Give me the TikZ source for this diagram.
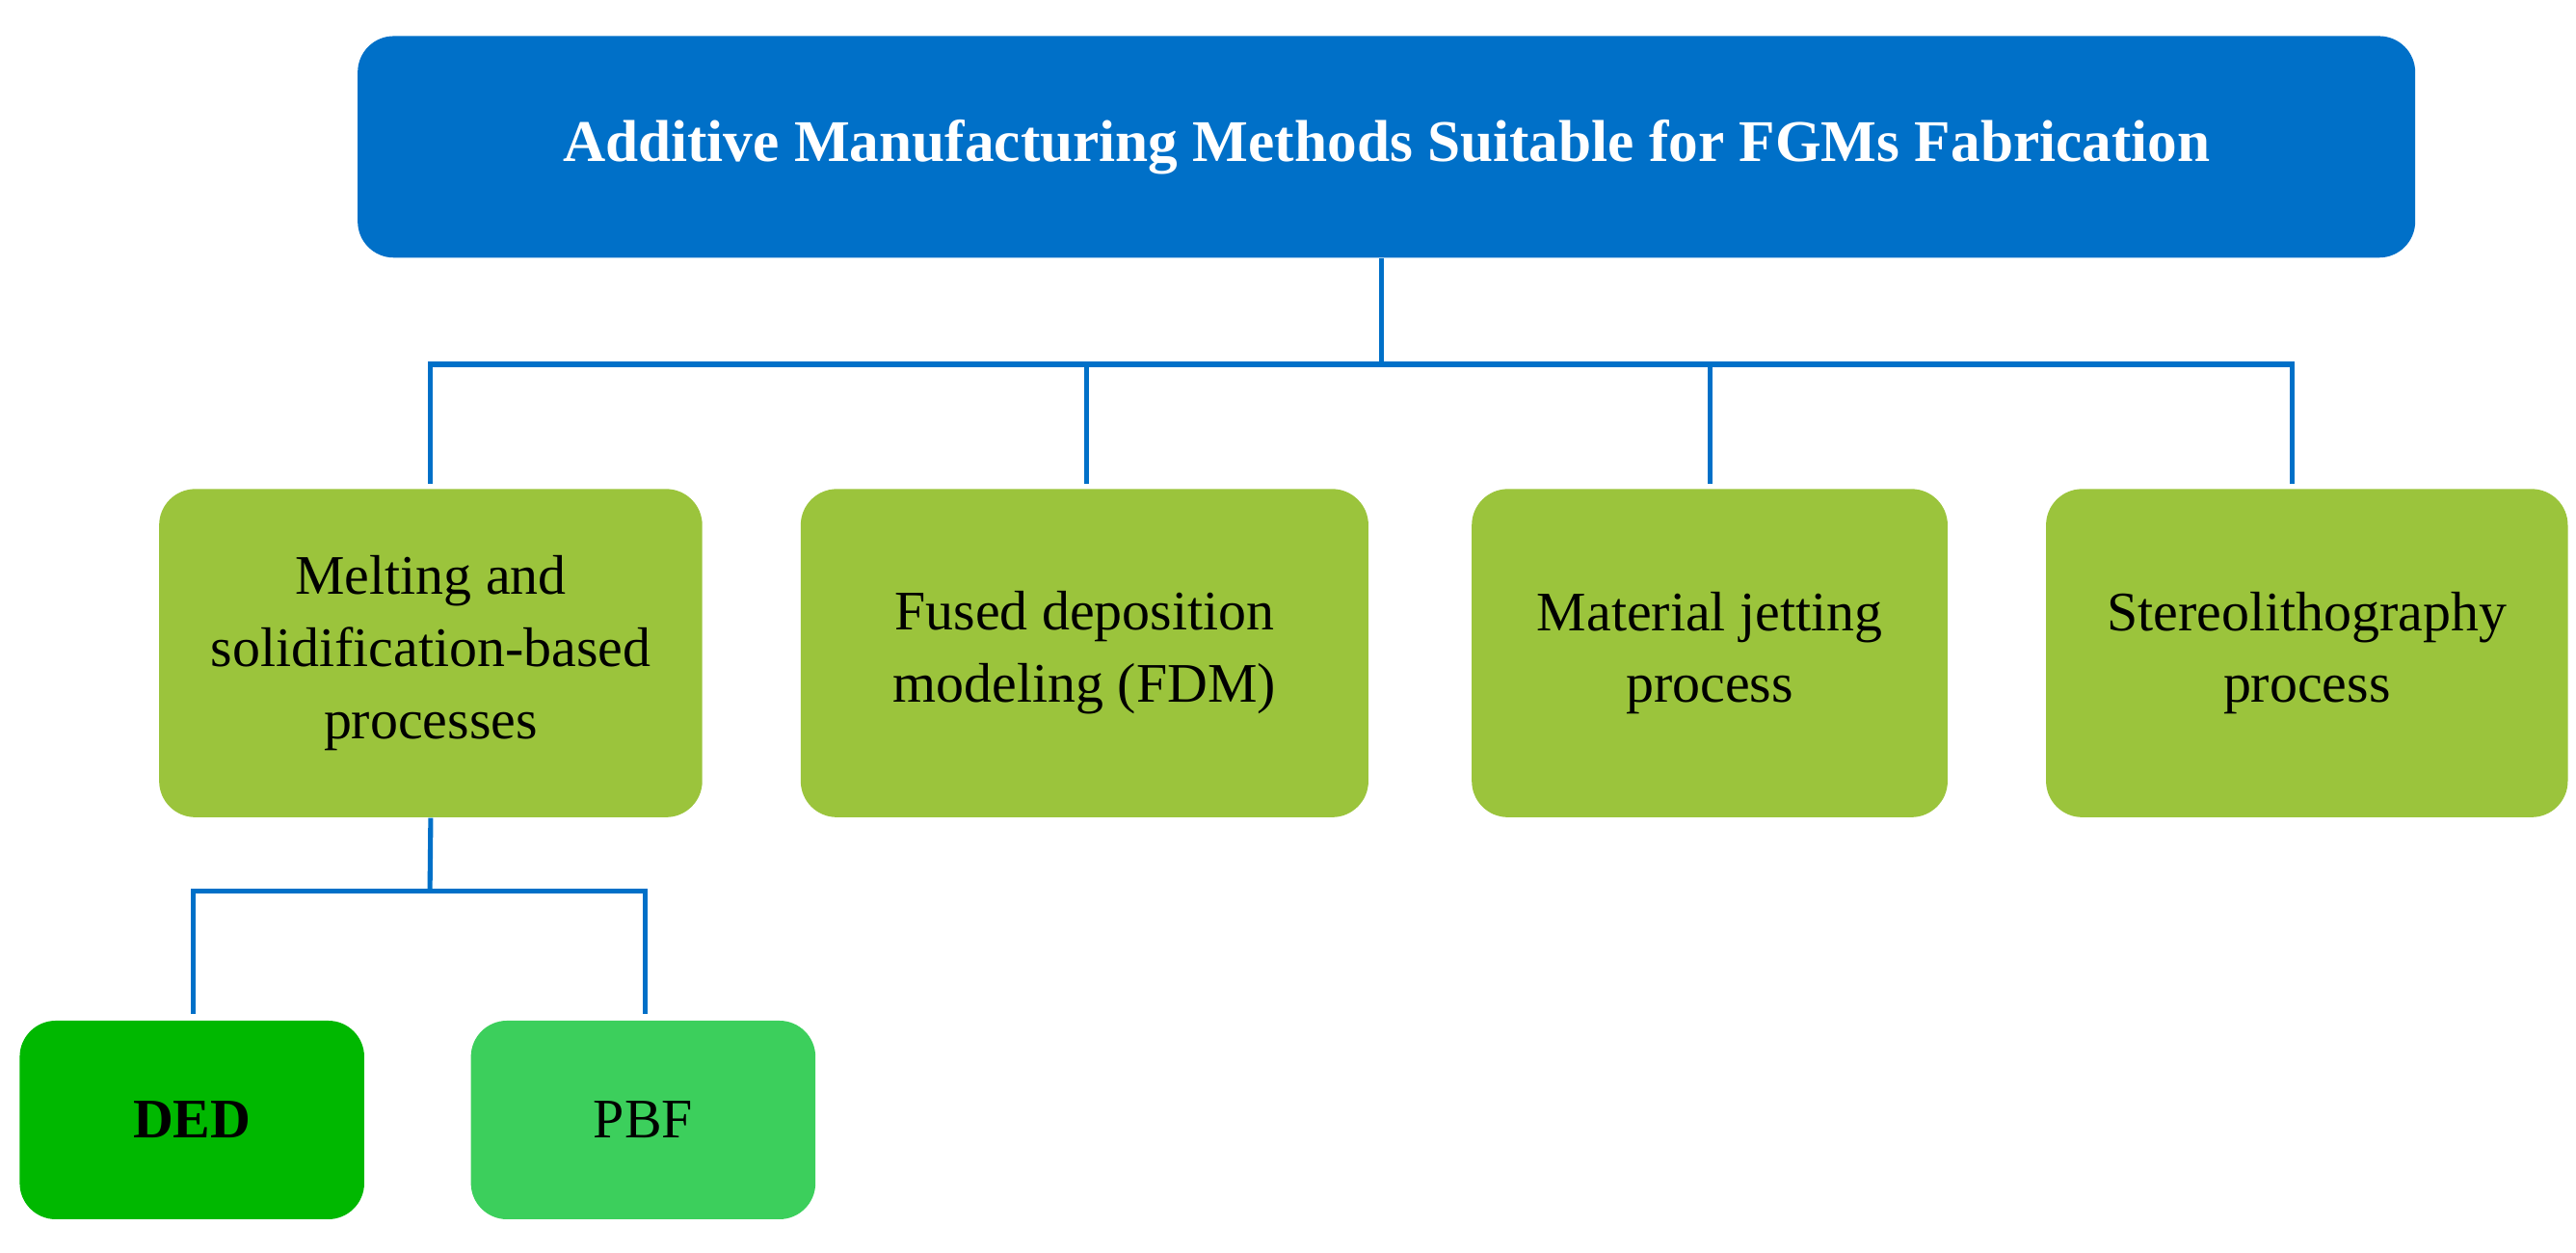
\documentclass[tikz,border=0pt]{standalone}
\usepackage{fontspec}
\setmainfont{Liberation Serif}
\begin{document}
\begin{tikzpicture}[x=0.5pt,y=-0.5pt,
  box/.style={rounded corners=11pt,align=center,font=\fontsize{17}{22}\selectfont,inner sep=0},
  ln/.style={draw=blueA,line width=1.5pt}]
\definecolor{blueA}{HTML}{0070C8}
\definecolor{greenA}{HTML}{9BC43C}
\definecolor{greenB}{HTML}{00B800}
\definecolor{greenC}{HTML}{3CCF5C}
\useasboundingbox (0,0) rectangle (1570,763);
\node[box,fill=blueA,text=white,font=\bfseries\fontsize{18}{22}\selectfont,minimum width=627pt,minimum height=67.5pt] (top) at (845,89.5) {Additive Manufacturing Methods Suitable for FGMs Fabrication};
\node[box,fill=greenA,minimum width=165.5pt,minimum height=100pt] (b1) at (262.5,398) {Melting and\\solidification-based\\processes};
\node[box,fill=greenA,minimum width=173pt,minimum height=100pt] (b2) at (661,398) {Fused deposition\\modeling (FDM)};
\node[box,fill=greenA,minimum width=145pt,minimum height=100pt] (b3) at (1042,398) {Material jetting\\process};
\node[box,fill=greenA,minimum width=159pt,minimum height=100pt] (b4) at (1406,398) {Stereolithography\\process};
\node[box,fill=greenB,font=\bfseries\fontsize{17}{22}\selectfont,minimum width=105pt,minimum height=60.5pt] (ded) at (117,682.5) {DED};
\node[box,fill=greenC,minimum width=105pt,minimum height=60.5pt] (pbf) at (392,682.5) {PBF};
\coordinate (h) at (842,222);
\draw[ln] (top.south -| h) -- (h);
\draw[ln] (262,295) -- (262,222) -- (1397,222) -- (1397,295);
\draw[ln] (662,222) -- (662,295);
\draw[ln] (1042,222) -- (1042,295);
\draw[ln] (b1.south) -- (262,543);
\draw[ln] (118,618) -- (118,543) -- (393,543) -- (393,618);
\end{tikzpicture}
\end{document}
